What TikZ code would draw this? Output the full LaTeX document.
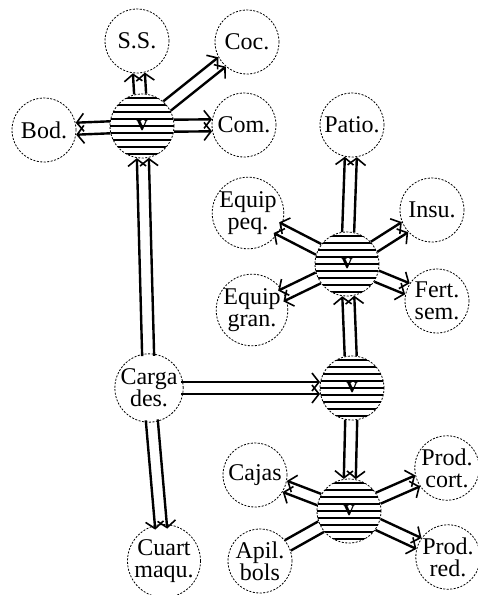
\documentclass[tikz,border=0pt]{standalone}
\usepackage{fontspec}
\setmainfont{Liberation Serif}
\usetikzlibrary{calc,arrows.meta}
\newcommand\dlink[4]{%
 \draw[#3] ($(#1.center)!32pt!(#2.center)!6pt!90:(#2.center)$) -- ($(#2.center)!32pt!(#1.center)!6pt!-90:(#1.center)$);
 \draw[#4] ($(#1.center)!32pt!(#2.center)!6pt!-90:(#2.center)$) -- ($(#2.center)!32pt!(#1.center)!6pt!90:(#1.center)$);
}
\begin{document}
\begin{tikzpicture}[x=1pt,y=-1pt,
  place/.style={circle, draw, line width=0.8pt, dash pattern=on 2pt off 1.5pt, minimum size=64pt, inner sep=0pt, align=center, font=\fontsize{24}{22}\selectfont, fill=white},
  hub/.style={place, font=\fontsize{22}{22}\selectfont\bfseries, path picture={\foreach \k in {-28,-21,...,28} \draw[line width=1.1pt, solid] ([yshift=\k pt]path picture bounding box.west) -- ([yshift=\k pt]path picture bounding box.east);}},
  link/.style={line width=2.4pt},
  tip/.style={link, -{Straight Barb[length=7pt,width=18pt,line width=1.6pt]}},
]
\useasboundingbox (0,0) rectangle (478,595);
\node[place] (ss) at (137,41) {S.S.};
\node[place] (coc) at (247,42) {Coc.};
\node[place] (com) at (244,125) {Com.};
\node[place] (bod) at (44,130) {Bod.};
\node[hub] (h1) at (142,126) {v};
\node[place] (patio) at (352,125) {Patio.};
\node[place] (eqp) at (248,213) {Equip\\peq.};
\node[place] (insu) at (432,210) {Insu.};
\node[hub] (h2) at (347,264) {v};
\node[place] (eqg) at (252,310) {Equip\\gran.};
\node[place] (fert) at (437,301) {Fert.\\sem.};
\node[place] (carga) at (149,388) {Carga\\des.};
\node[hub] (h3) at (352,388) {v};
\node[place] (cajas) at (255,475) {Cajas};
\node[hub] (h4) at (349,511) {v};
\node[place] (pcort) at (447,468) {Prod.\\cort.};
\node[place] (pred) at (448,557) {Prod.\\red.};
\node[place] (apil) at (260,561) {Apil.\\bols};
\node[place] (cuart) at (164,561) {Cuart\\maqu.};
\dlink{h1}{ss}{tip}{tip}
\dlink{h1}{coc}{tip}{tip}
\dlink{h1}{com}{tip}{tip}
\dlink{h1}{bod}{tip}{tip}
\dlink{carga}{h1}{tip}{tip}
\dlink{carga}{h3}{tip}{tip}
\dlink{carga}{cuart}{tip}{tip}
\dlink{h3}{h2}{tip}{tip}
\dlink{h2}{patio}{tip}{tip}
\dlink{h2}{eqp}{tip}{tip}
\dlink{h2}{insu}{tip}{tip}
\dlink{h2}{fert}{tip}{tip}
\dlink{h2}{eqg}{tip}{tip}
\dlink{h3}{h4}{tip}{tip}
\dlink{h4}{cajas}{tip}{tip}
\dlink{h4}{pcort}{tip}{tip}
\dlink{h4}{pred}{tip}{tip}
\dlink{h4}{apil}{link}{link}
\end{tikzpicture}
\end{document}
